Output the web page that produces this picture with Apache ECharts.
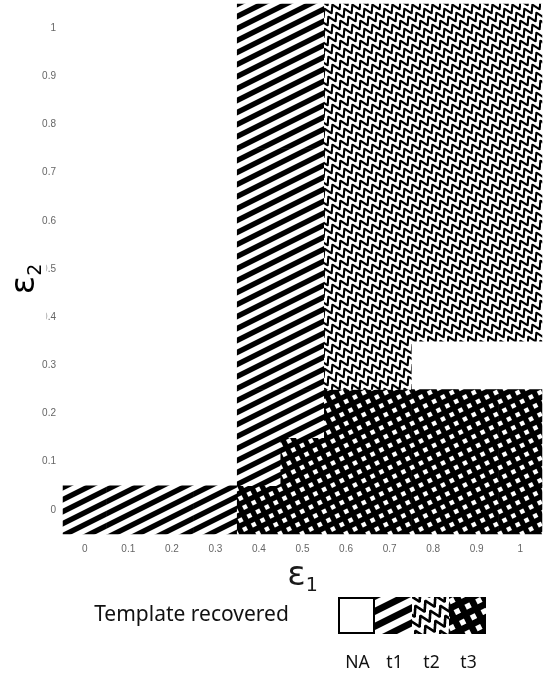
<!DOCTYPE html>
<html>
<head>
<meta charset="utf-8">
<script src="https://cdn.jsdelivr.net/npm/echarts@6/dist/echarts.min.js"></script>
<style>
html,body{margin:0;padding:0;background:#fff;}
#chart{width:549px;height:673px;}
</style>
</head>
<body>
<div id="chart"></div>
<script>
// ---------------- data ----------------
const xLabels = ['0','0.1','0.2','0.3','0.4','0.5','0.6','0.7','0.8','0.9','1'];
const yLabels = ['0','0.1','0.2','0.3','0.4','0.5','0.6','0.7','0.8','0.9','1'];
const templates = ['NA','t1','t2','t3'];
const legendTitle = 'Template recovered';
// template recovered for each epsilon2 row, listed along epsilon1
const row_e2_00 = ['t1','t1','t1','t1','t3','t3','t3','t3','t3','t3','t3'];
const row_e2_01 = ['NA','NA','NA','NA','t1','t3','t3','t3','t3','t3','t3'];
const row_e2_02 = ['NA','NA','NA','NA','t1','t1','t3','t3','t3','t3','t3'];
const row_e2_03 = ['NA','NA','NA','NA','t1','t1','t2','t2','NA','NA','NA'];
const row_e2_04 = ['NA','NA','NA','NA','t1','t1','t2','t2','t2','t2','t2'];
const row_e2_05 = ['NA','NA','NA','NA','t1','t1','t2','t2','t2','t2','t2'];
const row_e2_06 = ['NA','NA','NA','NA','t1','t1','t2','t2','t2','t2','t2'];
const row_e2_07 = ['NA','NA','NA','NA','t1','t1','t2','t2','t2','t2','t2'];
const row_e2_08 = ['NA','NA','NA','NA','t1','t1','t2','t2','t2','t2','t2'];
const row_e2_09 = ['NA','NA','NA','NA','t1','t1','t2','t2','t2','t2','t2'];
const row_e2_10 = ['NA','NA','NA','NA','t1','t1','t2','t2','t2','t2','t2'];
const rows = [row_e2_00,row_e2_01,row_e2_02,row_e2_03,row_e2_04,row_e2_05,
              row_e2_06,row_e2_07,row_e2_08,row_e2_09,row_e2_10];

// ---------------- patterns ----------------
function makeCanvas(w,h){const c=document.createElement('canvas');c.width=w;c.height=h;return c;}
const R5 = Math.sqrt(5);
// per-pixel tile of a lattice rotated with tan = 1/2 (rising to the right); tile size N = 5a, lattice step s = a*sqrt(5)
function latticeTile(N, isBlack){
  const c = makeCanvas(N,N), ctx = c.getContext('2d');
  const img = ctx.createImageData(N,N);
  const a = N/5, s = a*R5, SS = 4;
  for(let py=0;py<N;py++){
    for(let px=0;px<N;px++){
      let cov=0;
      for(let sy=0;sy<SS;sy++)for(let sx=0;sx<SS;sx++){
        const x=px+(sx+0.5)/SS, y=py+(sy+0.5)/SS;
        const u=((2*x-y)/R5), v=((x+2*y)/R5);
        if(isBlack(u,v,s)) cov++;
      }
      const g = Math.round(255*(1-cov/(SS*SS)));
      const i=(py*N+px)*4;
      img.data[i]=g;img.data[i+1]=g;img.data[i+2]=g;img.data[i+3]=255;
    }
  }
  ctx.putImageData(img,0,0);
  return c;
}
function frac(t){return t-Math.floor(t);}
function stripeTile(N){ return latticeTile(N,(u,v,s)=> frac(v/s)<0.5); }
function dotTile(N,w){ return latticeTile(N,(u,v,s)=> !(frac(u/s)<w && frac(v/s)<w)); }
// zigzag (triangle wave) lines running along the rising direction; wavelength = spacing = s/2
function zigzagTile(N, ampFrac, lw){
  return latticeTile(N,(u,v,s)=>{
    const L=s/2, P=s/2, H=ampFrac*P;
    const f=frac(u/L);
    const tri = H*(f<0.5 ? 2*f : 2-2*f) - H/2;
    const vv = frac(v/P)*P - P/2;
    const slope = H/(L/2);
    const dist = Math.abs(vv-tri)/Math.sqrt(1+slope*slope);
    return dist < lw/2;
  });
}
const plotFill = {
  NA: '#ffffff',
  t1: {image: stripeTile(24), repeat:'repeat'},
  t2: {image: zigzagTile(40,0.85,2.1), repeat:'repeat'},
  t3: {image: dotTile(22,0.45), repeat:'repeat'}
};
const legendFill = {
  NA: '#ffffff',
  t1: {image: stripeTile(30), repeat:'repeat'},
  t2: {image: zigzagTile(50,0.85,2.6), repeat:'repeat'},
  t3: {image: dotTile(27,0.45), repeat:'repeat'}
};

// ---------------- cells ----------------
const cells = [];
rows.forEach((row, yi)=>row.forEach((code, xi)=>cells.push([xi, yi, code])));

const tickFont = {fontSize: 10, color:'#666666', fontFamily:'"Liberation Sans", Arial, sans-serif'};
const epsRich = {
  e:{fontSize:34, lineHeight:40, fontFamily:'"DejaVu Sans", sans-serif', color:'#1a1a1a'},
  s:{fontSize:19, lineHeight:19, verticalAlign:'bottom', fontFamily:'"DejaVu Sans", sans-serif', color:'#1a1a1a'}
};

// legend layout
const LG = {x0:338, y0:597, w:37, h:37, labelY:663, titleX:191.5, titleY:615};
const legendElements = [
  {type:'text', x:LG.titleX, y:LG.titleY, z:60,
   style:{text:legendTitle, fontSize:21, fontFamily:'"Noto Sans", sans-serif', fill:'#111', align:'center', verticalAlign:'middle'}}
];
templates.forEach((t,i)=>{
  const isNA = t==='NA';
  legendElements.push({type:'rect', z:60,
    shape:{x:LG.x0+i*LG.w + (isNA?1:0), y:LG.y0 + (isNA?1:0), width:LG.w-(isNA?2:0), height:LG.h-(isNA?2:0)},
    style:{fill:legendFill[t], stroke:isNA?'#000':null, lineWidth:isNA?2:0}});
  legendElements.push({type:'text', x:LG.x0+i*LG.w+LG.w/2+1, y:LG.labelY, z:60,
    style:{text:t, fontSize:17.5, fontFamily:'"Noto Sans", sans-serif', fill:'#111', align:'center', verticalAlign:'middle'}});
});
// y axis title (pasted over the tick labels with a white box)
legendElements.push({type:'text', x:25.5, y:279, rotation:Math.PI/2, z:60,
  style:{text:'{e|ε}{s|2}', rich:epsRich, align:'center', verticalAlign:'middle',
         backgroundColor:'#fff', padding:[1,36,1,36]}});

const chart = echarts.init(document.getElementById('chart'), null, {renderer:'canvas'});
chart.setOption({
  animation:false,
  backgroundColor:'#fff',
  grid:{left:63, right:7, top:4, bottom:139},
  xAxis:{type:'category', data:xLabels,
    axisLine:{show:false}, axisTick:{show:false}, splitLine:{show:false},
    axisLabel:Object.assign({margin:10, interval:0}, tickFont),
    name:'{e|ε}{s|1}', nameLocation:'middle', nameGap:16,
    nameTextStyle:{rich:epsRich}},
  yAxis:{type:'category', data:yLabels,
    axisLine:{show:false}, axisTick:{show:false}, splitLine:{show:false},
    axisLabel:Object.assign({margin:7, interval:0}, tickFont)},
  series:[{
    type:'custom', silent:true,
    data:cells.map(c=>[c[0],c[1]]),
    encode:{x:0,y:1},
    renderItem:function(params, api){
      const code = cells[params.dataIndex][2];
      if(code==='NA') return null;
      const p = api.coord([api.value(0), api.value(1)]);
      const sz = api.size([1,1]);
      return {type:'rect',
        shape:{x:p[0]-sz[0]/2-0.25, y:p[1]-sz[1]/2-0.25, width:sz[0]+0.5, height:sz[1]+0.5},
        style:{fill:plotFill[code]}};
    }
  }],
  graphic:{elements:legendElements}
});
</script>
</body>
</html>
